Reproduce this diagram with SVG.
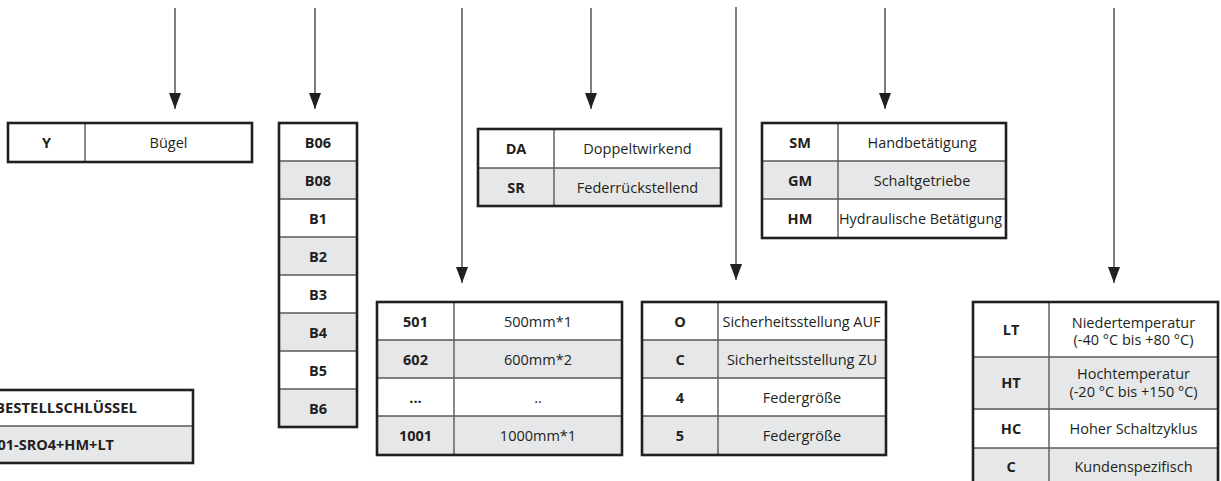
<svg xmlns="http://www.w3.org/2000/svg" width="1221" height="481" viewBox="0 0 1221 481">
<defs>
<style>
.bg{fill:#ffffff}
.sh{fill:#e6e7e8}
.ob{fill:none;stroke:#231f20;stroke-width:2.6}
.il{stroke:#58595b;stroke-width:1.4;fill:none}
.c{font-family:"Open Sans","Liberation Sans",sans-serif;font-size:14.5px;font-weight:bold;fill:#231f20;text-anchor:middle}
.d{font-family:"Open Sans","Liberation Sans",sans-serif;font-size:14.5px;fill:#231f20;text-anchor:middle}
.cn{stroke:#3a3a3a;stroke-width:1.3;fill:none;marker-end:url(#ah)}
</style>
<marker id="ah" viewBox="0 0 16 12" refX="16" refY="6" markerWidth="16" markerHeight="12" markerUnits="userSpaceOnUse" orient="auto">
<path d="M0,0 L16,6 L0,12 z" fill="#231f20"/>
</marker>
</defs>
<rect width="1221" height="481" fill="#ffffff"/>

<g id="connectors">
<line class="cn" x1="175" y1="8" x2="175" y2="109"/>
<line class="cn" x1="315" y1="8" x2="315" y2="109"/>
<line class="cn" x1="462" y1="8" x2="462" y2="283"/>
<line class="cn" x1="591" y1="8" x2="591" y2="109"/>
<line class="cn" x1="736" y1="7" x2="736" y2="280"/>
<line class="cn" x1="885" y1="8" x2="885" y2="109"/>
<line class="cn" x1="1114" y1="8" x2="1114" y2="283"/>
</g>

<g id="node-bestellschluessel">
<rect class="bg" x="-10" y="390" width="203" height="36"/>
<rect class="sh" x="-10" y="426" width="203" height="37"/>
<line class="il" x1="-10" y1="426" x2="193" y2="426"/>
<rect class="ob" x="-10" y="390" width="203" height="73"/>
<text class="c" x="137" y="413" style="text-anchor:end" textLength="142" lengthAdjust="spacingAndGlyphs">BESTELLSCHLÜSSEL</text>
<text class="c" x="114" y="450" style="text-anchor:end">01-SRO4+HM+LT</text>
</g>

<g id="node-y">
<rect class="bg" x="8" y="123" width="244" height="39"/>
<line class="il" x1="85" y1="123" x2="85" y2="162"/>
<rect class="ob" x="8" y="123" width="244" height="39"/>
<text class="c" x="46.5" y="147.5">Y</text>
<text class="d" x="168.5" y="147.5">Bügel</text>
</g>

<g id="node-b">
<rect class="bg" x="279" y="123" width="78" height="304"/>
<rect class="sh" x="279" y="161" width="78" height="38"/>
<rect class="sh" x="279" y="237" width="78" height="38"/>
<rect class="sh" x="279" y="313" width="78" height="38"/>
<rect class="sh" x="279" y="389" width="78" height="38"/>
<path class="il" d="M279,161H357M279,199H357M279,237H357M279,275H357M279,313H357M279,351H357M279,389H357"/>
<rect class="ob" x="279" y="123" width="78" height="304"/>
<text class="c" x="318" y="147.5">B06</text>
<text class="c" x="318" y="185.5">B08</text>
<text class="c" x="318" y="223.5">B1</text>
<text class="c" x="318" y="261.5">B2</text>
<text class="c" x="318" y="299.5">B3</text>
<text class="c" x="318" y="337.5">B4</text>
<text class="c" x="318" y="375.5">B5</text>
<text class="c" x="318" y="413.5">B6</text>
</g>

<g id="node-da">
<rect class="bg" x="478" y="129" width="243" height="39"/>
<rect class="sh" x="478" y="168" width="243" height="38"/>
<path class="il" d="M478,168H721M554,129V206"/>
<rect class="ob" x="478" y="129" width="243" height="77"/>
<text class="c" x="516" y="153.5">DA</text>
<text class="d" x="637.5" y="153.5">Doppeltwirkend</text>
<text class="c" x="516" y="192.5">SR</text>
<text class="d" x="637.5" y="192.5">Federrückstellend</text>
</g>

<g id="node-sm">
<rect class="bg" x="762" y="123" width="244" height="115"/>
<rect class="sh" x="762" y="161" width="244" height="38"/>
<path class="il" d="M762,161H1006M762,199H1006M838,123V238"/>
<rect class="ob" x="762" y="123" width="244" height="115"/>
<text class="c" x="800" y="147.5">SM</text>
<text class="d" x="922" y="147.5">Handbetätigung</text>
<text class="c" x="800" y="185.5">GM</text>
<text class="d" x="922" y="185.5">Schaltgetriebe</text>
<text class="c" x="800" y="223.5">HM</text>
<text class="d" x="920.5" y="223.5" textLength="163" lengthAdjust="spacingAndGlyphs">Hydraulische Betätigung</text>
</g>

<g id="node-length">
<rect class="bg" x="377" y="302" width="245" height="153"/>
<rect class="sh" x="377" y="340" width="245" height="38"/>
<rect class="sh" x="377" y="416" width="245" height="39"/>
<path class="il" d="M377,340H622M377,378H622M377,416H622M454,302V455"/>
<rect class="ob" x="377" y="302" width="245" height="153"/>
<text class="c" x="415.5" y="326.5">501</text>
<text class="d" x="538" y="326.5">500mm*1</text>
<text class="c" x="415.5" y="364.5">602</text>
<text class="d" x="538" y="364.5">600mm*2</text>
<text class="c" x="415.5" y="402.5">...</text>
<text class="d" x="538" y="402.5">..</text>
<text class="c" x="415.5" y="440.5">1001</text>
<text class="d" x="538" y="440.5">1000mm*1</text>
</g>

<g id="node-safety">
<rect class="bg" x="642" y="302" width="244" height="153"/>
<rect class="sh" x="642" y="340" width="244" height="38"/>
<rect class="sh" x="642" y="416" width="244" height="39"/>
<path class="il" d="M642,340H886M642,378H886M642,416H886M718,302V455"/>
<rect class="ob" x="642" y="302" width="244" height="153"/>
<text class="c" x="680" y="326.5">O</text>
<text class="d" x="801.5" y="326.5" textLength="158" lengthAdjust="spacingAndGlyphs">Sicherheitsstellung AUF</text>
<text class="c" x="680" y="364.5">C</text>
<text class="d" x="802" y="364.5">Sicherheitsstellung ZU</text>
<text class="c" x="680" y="402.5">4</text>
<text class="d" x="802" y="402.5">Federgröße</text>
<text class="c" x="680" y="440.5">5</text>
<text class="d" x="802" y="440.5">Federgröße</text>
</g>

<g id="node-temp">
<rect class="bg" x="973" y="302" width="245" height="184"/>
<rect class="sh" x="973" y="357" width="245" height="52"/>
<rect class="sh" x="973" y="448" width="245" height="38"/>
<path class="il" d="M973,357H1218M973,409H1218M973,448H1218M1049,302V486"/>
<rect class="ob" x="973" y="302" width="245" height="184"/>
<text class="c" x="1011" y="334.5">LT</text>
<text class="d" x="1133.5" y="327.5">Niedertemperatur</text>
<text class="d" x="1133.5" y="345">(-40 °C bis +80 °C)</text>
<text class="c" x="1011" y="388">HT</text>
<text class="d" x="1133.5" y="379">Hochtemperatur</text>
<text class="d" x="1133.5" y="397">(-20 °C bis +150 °C)</text>
<text class="c" x="1011" y="433.5">HC</text>
<text class="d" x="1133.5" y="433.5">Hoher Schaltzyklus</text>
<text class="c" x="1011" y="471.5">C</text>
<text class="d" x="1133.5" y="471.5">Kundenspezifisch</text>
</g>
</svg>
